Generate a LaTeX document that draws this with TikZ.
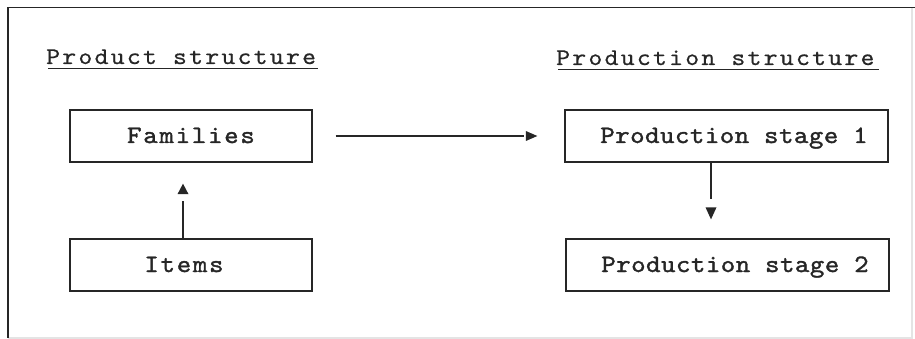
\documentclass[tikz,border=0pt]{standalone}
\usepackage{fontspec}
\usetikzlibrary{calc}
\newfontfamily\titlefont{lmmono10-regular.otf}[FakeBold=0.6,FakeStretch=1.1,LetterSpace=9.5]
\newfontfamily\boxfont{lmmono10-regular.otf}[FakeBold=1.4,FakeStretch=1.1,LetterSpace=7]
\newfontfamily\narrowfont{lmmono10-regular.otf}[FakeBold=1.4,FakeStretch=1.1,LetterSpace=2]
\definecolor{ink}{HTML}{262626}
\definecolor{faint}{HTML}{E4E4E4}
\begin{document}
\begin{tikzpicture}[x=1pt,y=-1pt,
  box/.style={draw=ink, line width=1.3pt, minimum width=242pt, minimum height=52pt,
    inner sep=0pt, text height=17pt, text depth=3pt, text=ink,
    font=\boxfont\fontsize{25}{28}\selectfont},
  pbox/.style={box, minimum width=323pt, font=\narrowfont\fontsize{25}{28}\selectfont},
  ttl/.style={anchor=base west, inner sep=0pt, text=ink,
    font=\titlefont\fontsize{24}{27}\selectfont},
  conn/.style={draw=ink, line width=1.2pt},
  tip/.style={fill=ink}]
\useasboundingbox (0,0) rectangle (915,339);
% frame
\draw[faint, line width=1.2pt] (912,7.5) -- (912,338) -- (8,338);
\draw[ink, line width=1.5pt] (8,338) -- (8,7.5) -- (915,7.5);
% titles
\node[ttl] (t1) at (46,64) {Product structure};
\node[ttl] (t2) at (556,65) {Production structure};
\draw[ink, line width=1.8pt] ($(t1.base west)+(2,4.5)$) -- ($(t1.base west)+(272,4.5)$);
\draw[ink, line width=1.8pt] ($(t2.base west)+(2,4.5)$) -- ($(t2.base west)+(323,4.5)$);
% boxes
\node[box] (fam) at (191,136) {Families};
\node[box] (items) at (191,265) {Items\hspace*{14pt}};
\node[pbox] (ps1) at (726.5,136) {\hspace*{15pt}Production stage 1};
\node[pbox] (ps2) at (727.5,265) {\hspace*{15pt}Production stage 2};
% connectors
\draw[conn] ($(items.north)+(-8,0)$) -- ($(fam.south)+(-8,38)$);
\fill[tip] ($(fam.south)+(-8,21)$) -- ($(fam.south)+(-13.5,31.5)$) -- ($(fam.south)+(-2.5,31.5)$) -- cycle;
\draw[conn] ($(fam.east)+(23,0)$) -- ($(ps1.west)+(-40,0)$);
\fill[tip] ($(ps1.west)+(-27,0)$) -- ($(ps1.west)+(-38.5,-5)$) -- ($(ps1.west)+(-38.5,5)$) -- cycle;
\draw[conn] ($(ps1.south)+(-15.5,0)$) -- ($(ps2.north)+(-16.5,-39)$);
\fill[tip] ($(ps2.north)+(-16.5,-19)$) -- ($(ps2.north)+(-22,-31)$) -- ($(ps2.north)+(-11,-31)$) -- cycle;
\end{tikzpicture}
\end{document}
